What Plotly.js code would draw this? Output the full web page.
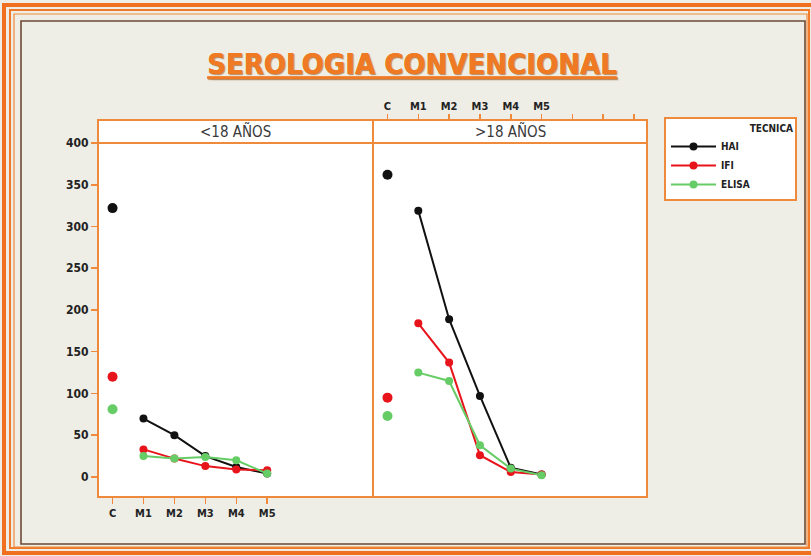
<!DOCTYPE html>
<html><head><meta charset="utf-8">
<script src="https://cdn.plot.ly/plotly-3.0.1.min.js"></script>
<style>html,body{margin:0;padding:0;background:#efeee6;overflow:hidden}</style>
</head><body>
<div id="chart" style="width:811px;height:556px"></div>
<script>
// ---- data ----
const periods = ['C', 'M1', 'M2', 'M3', 'M4', 'M5'];
const panelLabels = ['<18 AÑOS', '>18 AÑOS'];
const techniques = ['HAI', 'IFI', 'ELISA'];
const haiUnder18   = [322, 70, 50, 25, 12, 4];
const ifiUnder18   = [120, 33, 22, 13, 9, 8];
const elisaUnder18 = [81, 25, 22, 24, 20, 4];
const haiOver18    = [362, 319, 189, 97, 11, 3];
const ifiOver18    = [95, 184, 137, 26, 6, 3];
const elisaOver18  = [73, 125, 115, 38, 10, 2];
const yTicks = [0, 50, 100, 150, 200, 250, 300, 350, 400];

// ---- styling ----
const colors = {HAI: '#111111', IFI: '#e8141c', ELISA: '#66cc66'};
const orange = '#ef8a3c';
const tickFont = {family: 'DejaVu Sans Condensed, Liberation Sans Narrow, sans-serif', size: 11, color: '#222', weight: 'bold'};

const W = 811, H = 556;
const M = {l: 98, r: W - 647, t: 120, b: H - 497, autoexpand: false};
const pw = W - M.l - M.r, ph = H - M.t - M.b;
const px = v => (v - M.l) / pw;
const py = v => (H - M.b - v) / ph;
const split = px(373);
const stripBottom = py(143);

const seriesByPanel = [
  {HAI: haiUnder18, IFI: ifiUnder18, ELISA: elisaUnder18},
  {HAI: haiOver18, IFI: ifiOver18, ELISA: elisaOver18}
];
const idx = periods.map((_, i) => i);

const traces = [];
seriesByPanel.forEach((ser, p) => {
  const xa = p === 0 ? 'x' : 'x2';
  techniques.forEach(t => {
    const vals = ser[t];
    traces.push({
      type: 'scatter', mode: 'markers', xaxis: xa, yaxis: 'y',
      x: idx.slice(0, 1), y: vals.slice(0, 1),
      marker: {color: colors[t], size: 10},
      name: t, legendgroup: t, showlegend: false
    });
    traces.push({
      type: 'scatter', mode: 'lines+markers', xaxis: xa, yaxis: 'y',
      x: idx.slice(1), y: vals.slice(1),
      line: {color: colors[t], width: 2},
      marker: {color: colors[t], size: 8},
      name: t, legendgroup: t, showlegend: p === 0
    });
  });
});

const xr = [-0.47, 8.42];
const frame = (x0, y0, x1, y1, color, width) => ({
  type: 'rect', xref: 'paper', yref: 'paper', layer: 'below',
  x0: px(x0), x1: px(x1), y0: py(y1), y1: py(y0),
  line: {color: color, width: width}, fillcolor: 'rgba(0,0,0,0)'
});

const legendFont = {family: 'DejaVu Sans Condensed, sans-serif', size: 10, color: '#222', weight: 'bold'};
const layout = {
  width: W, height: H,
  margin: M,
  paper_bgcolor: '#efeee6',
  plot_bgcolor: '#ffffff',
  title: {
    text: '<u>SEROLOGIA CONVENCIONAL</u>',
    font: {family: 'DejaVu Sans Condensed, Liberation Sans Narrow, sans-serif', size: 29, color: '#f07a24', weight: 'bold', shadow: '1px 1px 1px rgba(140,70,10,0.35)'},
    xref: 'container', x: 412 / W, xanchor: 'center',
    yref: 'container', y: 1 - 64 / H, yanchor: 'middle'
  },
  showlegend: true,
  legend: {
    x: px(664), y: py(117), xanchor: 'left', yanchor: 'top',
    bgcolor: '#ffffff', bordercolor: orange, borderwidth: 2,
    font: legendFont, itemwidth: 45,
    title: {text: '\u00a0'.repeat(26) + 'TECNICA', side: 'top right', font: legendFont},
    tracegroupgap: 0
  },
  xaxis: {
    domain: [0, split], range: xr, anchor: 'y',
    tickmode: 'array', tickvals: idx, ticktext: periods,
    ticks: 'outside', ticklen: 6, tickwidth: 1.5, tickcolor: orange,
    showgrid: false, zeroline: false, showline: false,
    tickfont: tickFont, fixedrange: true
  },
  xaxis2: {
    domain: [split, 1], range: xr, anchor: 'free', position: 1, side: 'top',
    tickmode: 'array', tickvals: [0, 1, 2, 3, 4, 5, 6, 7, 8], ticktext: periods.concat(['', '', '']),
    ticks: 'outside', ticklen: 6, tickwidth: 1.5, tickcolor: orange,
    showgrid: false, zeroline: false, showline: false,
    tickfont: tickFont, fixedrange: true
  },
  yaxis: {
    domain: [0, stripBottom], range: [-24, 400], anchor: 'x',
    tickmode: 'array', tickvals: yTicks,
    ticks: 'outside', ticklen: 6, tickwidth: 1.5, tickcolor: orange,
    showgrid: false, zeroline: false, showline: false,
    tickfont: Object.assign({}, tickFont, {size: 12}), fixedrange: true
  },
  shapes: [
    // page frame
    frame(4, 5, 813, 553, '#f07020', 4),
    frame(10, 10, 809, 548, '#f07a2a', 2),
    frame(14, 14, 807, 547, '#f08a3a', 1.2),
    frame(21, 21, 805, 544, '#6b4a35', 1.6),
    // strip backgrounds
    {type: 'rect', xref: 'paper', yref: 'paper', layer: 'below', x0: 0, x1: 1, y0: stripBottom, y1: 1,
     fillcolor: '#ffffff', line: {width: 0}},
    // panel borders
    {type: 'rect', xref: 'paper', yref: 'paper', layer: 'above', x0: 0, x1: split, y0: 0, y1: 1,
     line: {color: orange, width: 2}},
    {type: 'rect', xref: 'paper', yref: 'paper', layer: 'above', x0: split, x1: 1, y0: 0, y1: 1,
     line: {color: orange, width: 2}},
    {type: 'line', xref: 'paper', yref: 'paper', layer: 'above', x0: 0, x1: 1, y0: stripBottom, y1: stripBottom,
     line: {color: orange, width: 2}}
  ],
  annotations: panelLabels.map((lab, i) => ({
    text: lab, xref: 'paper', yref: 'paper',
    x: i === 0 ? split / 2 : (split + 1) / 2, y: (stripBottom + 1) / 2,
    xanchor: 'center', yanchor: 'middle', showarrow: false,
    font: {family: 'DejaVu Sans Condensed, sans-serif', size: 15, color: '#3a3a3a'}
  }))
};

Plotly.newPlot('chart', traces, layout, {displayModeBar: false, staticPlot: true});
</script>
</body></html>
